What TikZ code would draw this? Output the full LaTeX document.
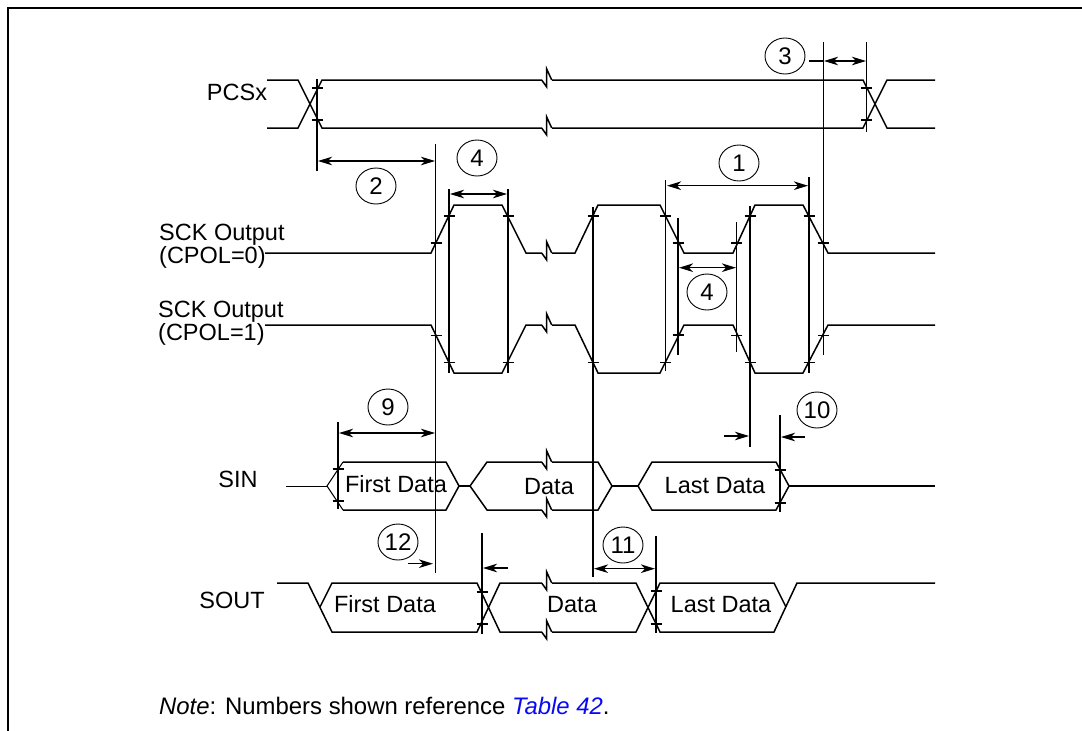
\documentclass[tikz,border=0pt]{standalone}
\usepackage{fontspec}
\setmainfont{Liberation Sans}
\usetikzlibrary{arrows.meta,shapes.geometric}
\definecolor{tablelink}{RGB}{10,10,240}
\tikzset{
	sig/.style={line width=1.5pt,line join=miter},
	guide/.style={line width=1.5pt},
	dim/.style={line width=1.5pt,<->,>={Stealth[length=14pt,width=8.5pt,inset=4pt]}},
	single/.style={line width=1.5pt,->,>={Stealth[length=14pt,width=8.5pt,inset=4pt]}},
	num/.style={draw,ellipse,line width=0.9pt,minimum width=40pt,minimum height=36pt,inner sep=0pt,font=\fontsize{24}{24}\selectfont},
	lab/.style={font=\fontsize{23.5}{23.5}\selectfont,inner sep=0pt},
}
\newcommand{\tick}[2]{\draw[guide] (#1-5.5,#2)--(#1+5.5,#2);}
\newcommand{\brk}[2]{\fill[white] (#1-5,#2-2)rectangle(#1+5,#2+2);\draw[sig] (#1-5,#2)--(#1,#2+7)--(#1,#2-11)--(#1+5,#2);}

\begin{document}
\begin{tikzpicture}[x=1pt,y=-1pt]
	\useasboundingbox (0,0) rectangle (1082,731);
	% frame
	\draw[line width=2pt] (8,731)--(8,8)--(1082,8);

	% PCSx
	\draw[sig] (267,80)--(298,80)--(322,128)--(863,128)--(887,80)--(935,80);
	\draw[sig] (267,128)--(298,128)--(322,80)--(863,80)--(887,128)--(935,128);
	\brk{546.7}{80}
	\brk{546.7}{128}

	% SCK
	\draw[sig] (265,253)--(431,253)--(454,205)--(502,205)--(526,253)--(575,253)--(598,205)--(660,205)--(684,253)--(733,253)--(755,205)--(803,205)--(828,253)--(935,253);
	\draw[sig] (265,325)--(431,325)--(454,373)--(502,373)--(526,325)--(575,325)--(598,373)--(660,373)--(684,325)--(733,325)--(755,373)--(803,373)--(828,325)--(935,325);
	\brk{546.7}{253}
	\brk{546.7}{325}

	% SIN
	\draw[line width=0.8pt] (286,486)--(327,486);
	\draw[line width=1pt] (343,462)--(327,486)--(343,510);
	\draw[sig] (343,510)--(446,510)--(459,486)--(446,462)--(343,462);
	\draw[sig] (459,486)--(470,486);
	\draw[sig] (612,486)--(638,486);
	\draw[sig] (470,486)--(487,462)--(598,462)--(612,486)--(598,510)--(487,510)--cycle;
	\draw[sig] (638,486)--(652,462)--(776,462)--(789,486)--(776,510)--(652,510)--cycle;
	\draw[sig] (789,486)--(935,486);
	\brk{546.7}{462}
	\brk{546.7}{510}

	% SOUT
	\draw[sig] (277,583)--(308,583)--(332,632)--(477,632)--(500,583)--(636,583)--(660,632)--(774,632)--(797,583)--(935,583);
	\draw[sig] (320,607)--(332,583)--(477,583)--(500,632)--(636,632)--(660,583)--(774,583)--(786,607);
	\brk{546.7}{583}
	\brk{546.7}{632}

	% verticals
	\draw[guide] (317,79)--(317,171);
	\draw[guide] (866.7,42)--(866.7,132);
	\draw[guide] (823.3,42)--(823.3,355);
	\draw[line width=1pt] (435.7,144)--(435.7,573);
	\draw[guide] (449,189)--(449,373);
	\draw[guide] (508,189)--(508,373);
	\draw[guide] (593,207)--(593,577);
	\draw[guide] (665.7,180)--(665.7,371);
	\draw[guide] (678,218)--(678,355);
	\draw[guide] (736.7,222)--(736.7,352);
	\draw[guide] (750,206)--(750,447);
	\draw[guide] (809,177)--(809,373);
	\draw[guide] (338,422)--(338,509);
	\draw[guide] (780,415)--(780,512);
	\draw[guide] (482,533)--(482,634);
	\draw[guide] (656,536)--(656,633);

	% ticks
	\foreach \x/\y in {317/88,317/120,866.7/88,866.7/120,
		436/243,449/216,508/216,593/216,665.7/216,678/243,736.7/243,750/216,809/216,823.3/243,
		436/335.7,449/362.7,508/362.7,593/362.7,665.7/362.7,678/335,736.7/335.7,750/362.7,809/362.7,823.3/335.7,
		338/469,338/501,780/470,780/503,482/592,482/624,656/591,656/624}{
		\tick{\x}{\y}
	}

	% dimension arrows
	\coordinate (a2l) at (318,161);
	\coordinate (a2r) at (435,161);
	\coordinate (a3l) at (824,61);
	\coordinate (a3r) at (866,61);
	\coordinate (a3t) at (809,61);
	\draw[dim] (a2l)--(a2r);
	\draw[dim] (a3l)--(a3r);
	\draw[guide] (a3t)--(a3l);
	\draw[dim] (450,194)--(507,194);
	\draw[dim] (667,185.7)--(808,185.7);
	\draw[dim] (679,267.7)--(736,267.7);
	\draw[dim] (339,433)--(435,433);
	\draw[dim] (594,568.7)--(655,568.7);
	\draw[single] (724,436)--(749,436);
	\draw[single] (805,437)--(781,437);
	\draw[single] (408,563.7)--(433,563.7);
	\draw[single] (508,568)--(483,568);

	% numbers
	\node[num] (n1) at (739,163) {1};
	\node[num] (n2) at (376,186) {2};
	\node[num] (n3) at (785,56) {3};
	\node[num] (n4a) at (477,158) {4};
	\node[num] (n4b) at (707,292) {4};
	\node[num] (n9) at (388,407) {9};
	\node[num] (n10) at (817,410) {10};
	\node[num] (n11) at (623,545) {11};
	\node[num] (n12) at (398,542) {12};

	% labels
	\node[lab] (pcs) at (237,92) {PCSx};
	\node[lab,align=left,anchor=north west,font=\fontsize{23.5}{23}\selectfont] (sck0) at (159,224) {SCK Output\\(CPOL=0)};
	\node[lab,align=left,anchor=north west,font=\fontsize{23.5}{23}\selectfont] (sck1) at (158,301) {SCK Output\\(CPOL=1)};
	\node[lab] (sin) at (238,479) {SIN};
	\node[lab] (sout) at (232,600) {SOUT};
	\node[lab] (d1) at (396,484) {First Data};
	\node[lab] (d2) at (549,487) {Data};
	\node[lab] (d3) at (715,486) {Last Data};
	\node[lab] (d4) at (385,604) {First Data};
	\node[lab] (d5) at (572,605) {Data};
	\node[lab] (d6) at (721,605) {Last Data};
	\node[lab,anchor=west,font=\fontsize{23.9}{24}\selectfont] (note) at (159,706) {\textit{Note}: Numbers shown reference \textcolor{tablelink}{\textit{Table 42}}.};
\end{tikzpicture}
\end{document}
